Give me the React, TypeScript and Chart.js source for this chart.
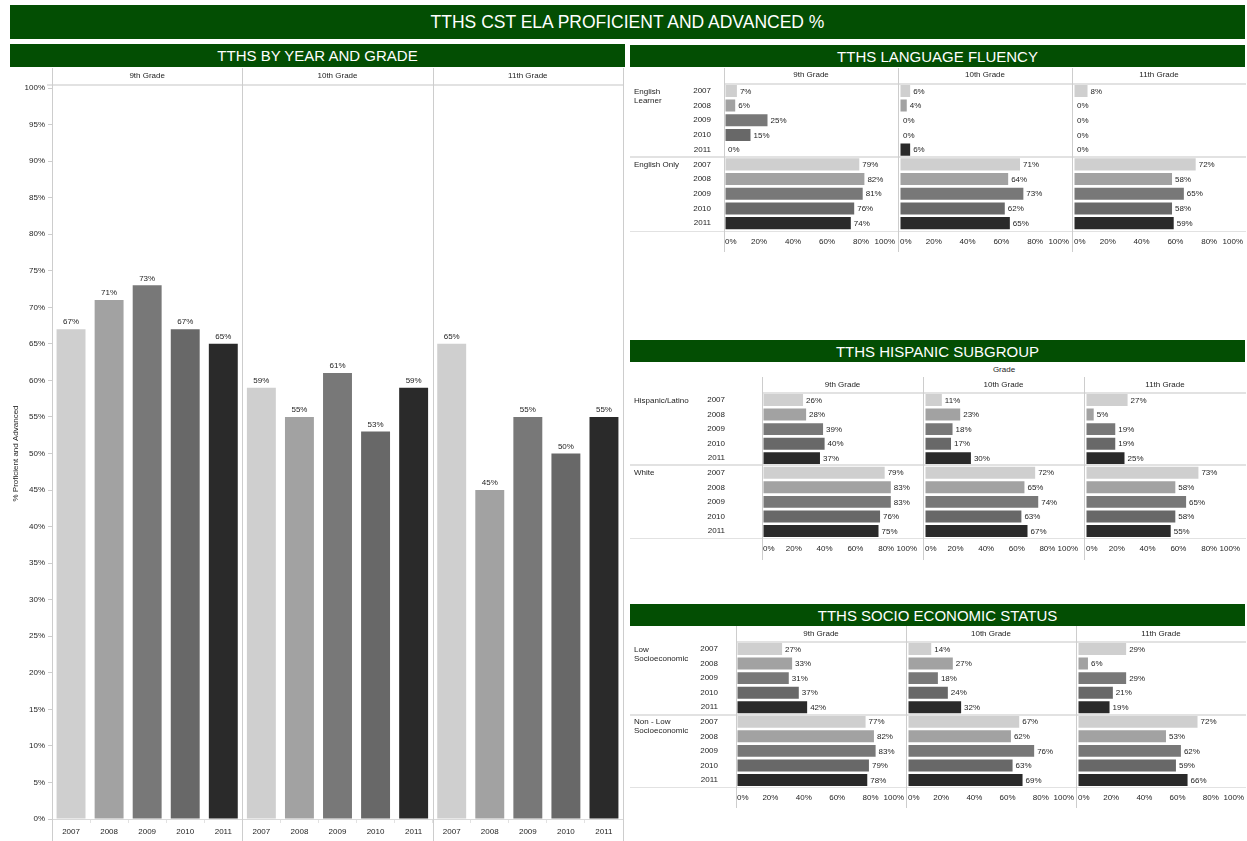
import React, { useEffect, useRef } from "react";
import { Chart, registerables } from "chart.js";
Chart.register(...registerables);

// ---------- data ----------
const YEARS = ["2007", "2008", "2009", "2010", "2011"];
const GRADES = ["9th Grade", "10th Grade", "11th Grade"];
const YEAR_COLORS = ["#cfcfcf", "#a2a2a2", "#787878", "#686868", "#2a2a2a"];
const Y_TICK_STEP = 5;
const X_TICK_STEP = 20;

// TTHS by year and grade
const yearGrade9 = [67, 71, 73, 67, 65];
const yearGrade10 = [59, 55, 61, 53, 59];
const yearGrade11 = [65, 45, 55, 50, 55];

// Language fluency
const FLUENCY_GROUPS = ["English Learner", "English Only"];
const englishLearner9 = [7, 6, 25, 15, 0];
const englishLearner10 = [6, 4, 0, 0, 6];
const englishLearner11 = [8, 0, 0, 0, 0];
const englishOnly9 = [79, 82, 81, 76, 74];
const englishOnly10 = [71, 64, 73, 62, 65];
const englishOnly11 = [72, 58, 65, 58, 59];

// Hispanic subgroup
const HISPANIC_GROUPS = ["Hispanic/Latino", "White"];
const hispanic9 = [26, 28, 39, 40, 37];
const hispanic10 = [11, 23, 18, 17, 30];
const hispanic11 = [27, 5, 19, 19, 25];
const white9 = [79, 83, 83, 76, 75];
const white10 = [72, 65, 74, 63, 67];
const white11 = [73, 58, 65, 58, 55];

// Socio economic status
const SES_GROUPS = ["Low Socioeconomic", "Non - Low Socioeconomic"];
const lowSes9 = [27, 33, 31, 37, 42];
const lowSes10 = [14, 27, 18, 24, 32];
const lowSes11 = [29, 6, 29, 21, 19];
const nonLowSes9 = [77, 82, 83, 79, 78];
const nonLowSes10 = [67, 62, 76, 63, 69];
const nonLowSes11 = [72, 53, 62, 59, 66];

// ---------- styling / layout ----------
const FONT = '"Liberation Sans", Arial, Helvetica, sans-serif';
const FS = 8;
const GREEN = "#034e03";
const TEXT = "#1e1e1e";
const LINE = "#cdcdcd";
const LIGHT = "#e2e2e2";
const PANEL_LEFT = 630;

const LEFT = { top: 67, width: 625, height: 774, axisWidth: 52, padTop: 21, axisHeight: 22, padRight: 2 };

type Panel = {
  title: string;
  titleTop: number;
  titleHeight: number;
  caption?: string;
  captionTop?: number;
  headTop: number;
  rowsTop: number;
  rowsBottom: number;
  bottom: number;
  cols: number[];
  yearGap: number;
  wrap: number;
  rightGap: number;
  groups: string[];
  series: number[][][];
};

const PANELS: Panel[] = [
  {
    title: "TTHS LANGUAGE FLUENCY",
    titleTop: 45,
    titleHeight: 22,
    headTop: 68,
    rowsTop: 83.5,
    rowsBottom: 230.5,
    bottom: 252,
    cols: [724, 898, 1072, 1246],
    yearGap: 14,
    wrap: 50,
    rightGap: 3,
    groups: FLUENCY_GROUPS,
    series: [
      [englishLearner9, englishOnly9],
      [englishLearner10, englishOnly10],
      [englishLearner11, englishOnly11],
    ],
  },
  {
    title: "TTHS HISPANIC SUBGROUP",
    titleTop: 340,
    titleHeight: 22,
    caption: "Grade",
    captionTop: 365,
    headTop: 377,
    rowsTop: 392.7,
    rowsBottom: 538.3,
    bottom: 560,
    cols: [762, 923, 1084, 1246],
    yearGap: 38,
    wrap: 66,
    rightGap: 6,
    groups: HISPANIC_GROUPS,
    series: [
      [hispanic9, white9],
      [hispanic10, white10],
      [hispanic11, white11],
    ],
  },
  {
    title: "TTHS SOCIO ECONOMIC STATUS",
    titleTop: 604,
    titleHeight: 22,
    headTop: 626,
    rowsTop: 641.7,
    rowsBottom: 787.3,
    bottom: 808,
    cols: [736, 906, 1076, 1246],
    yearGap: 19,
    wrap: 58,
    rightGap: 2,
    groups: SES_GROUPS,
    series: [
      [lowSes9, nonLowSes9],
      [lowSes10, nonLowSes10],
      [lowSes11, nonLowSes11],
    ],
  },
];

function wrapText(ctx: CanvasRenderingContext2D, text: string, maxW: number): string[] {
  const words = text.split(" ");
  const lines: string[] = [];
  let cur = "";
  words.forEach((w) => {
    const t = cur ? cur + " " + w : w;
    if (cur && ctx.measureText(t).width > maxW) {
      lines.push(cur);
      cur = w;
    } else cur = t;
  });
  if (cur) lines.push(cur);
  return lines;
}

function makeLeft(canvas: HTMLCanvasElement) {
  const labels = [...YEARS, ...YEARS, ...YEARS];
  const values = [...yearGrade9, ...yearGrade10, ...yearGrade11];
  const colors = labels.map((_, i) => YEAR_COLORS[i % YEARS.length]);
  const decor = {
    id: "leftDecor",
    afterDraw(chart: any) {
      const { ctx, chartArea: a, scales } = chart;
      const x = scales.x;
      const H = chart.height;
      const bounds = [a.left];
      for (let g = 1; g < GRADES.length; g++) {
        bounds.push((x.getPixelForValue(g * 5 - 1) + x.getPixelForValue(g * 5)) / 2);
      }
      bounds.push(a.right);
      ctx.save();
      ctx.fillStyle = LIGHT;
      ctx.fillRect(a.left - 5, Math.round(a.top) - 4, a.right - a.left + 5, 2);
      ctx.fillStyle = LINE;
      bounds.forEach((b) => ctx.fillRect(Math.round(b), 1, 1, H - 1));
      ctx.font = `${FS}px ${FONT}`;
      ctx.fillStyle = TEXT;
      ctx.textAlign = "center";
      ctx.textBaseline = "middle";
      GRADES.forEach((g, i) => ctx.fillText(g, (bounds[i] + bounds[i + 1]) / 2, 9));
      const meta = chart.getDatasetMeta(0);
      ctx.textBaseline = "bottom";
      meta.data.forEach((el: any, i: number) => {
        ctx.fillText(values[i] + "%", el.x, el.y - 3);
      });
      ctx.restore();
    },
  };
  return new Chart(canvas, {
    type: "bar",
    data: {
      labels,
      datasets: [
        {
          data: values,
          backgroundColor: colors,
          borderWidth: 0,
          barPercentage: 0.76,
          categoryPercentage: 1,
        },
      ],
    },
    options: {
      responsive: false,
      animation: false,
      layout: { padding: { top: LEFT.padTop, right: LEFT.padRight, left: 0, bottom: 0 } },
      plugins: { legend: { display: false }, tooltip: { enabled: false } },
      scales: {
        x: {
          ticks: { font: { size: FS, family: FONT }, color: TEXT, maxRotation: 0, autoSkip: false, padding: 4 },
          grid: { drawOnChartArea: false, offset: true, tickLength: 4, color: LIGHT },
          border: { display: true, color: "#d9d9d9" },
          afterFit: (s: any) => {
            s.height = LEFT.axisHeight;
          },
        },
        y: {
          min: 0,
          max: 100,
          ticks: {
            stepSize: Y_TICK_STEP,
            callback: (v: any) => v + "%",
            font: { size: FS, family: FONT },
            color: TEXT,
            padding: 3,
          },
          grid: { drawOnChartArea: false, tickLength: 4, color: LINE },
          border: { display: false },
          title: {
            display: true,
            text: "% Proficient and Advanced",
            font: { size: FS, family: FONT },
            color: TEXT,
            padding: { top: 11, bottom: 0 },
          },
          afterFit: (s: any) => {
            s.width = LEFT.axisWidth;
          },
        },
      },
    },
    plugins: [decor],
  } as any);
}

function makeHBar(canvas: HTMLCanvasElement, p: Panel, gi: number) {
  const first = gi === 0;
  const values = [...p.series[gi][0], ...p.series[gi][1]];
  const labels = [...YEARS, ...YEARS];
  const colors = labels.map((_, i) => YEAR_COLORS[i % YEARS.length]);
  const colLeft = p.cols[gi];
  const canvasLeft = first ? PANEL_LEFT : colLeft;
  const areaLeft = colLeft + 1 - canvasLeft;
  const decor = {
    id: "hbarDecor",
    afterDraw(chart: any) {
      const { ctx, chartArea: a, scales } = chart;
      const y = scales.y;
      const W = chart.width;
      const H = chart.height;
      const lineX = areaLeft - 1;
      ctx.save();
      // header underline
      ctx.fillStyle = LIGHT;
      ctx.fillRect(lineX, Math.round(a.top) - 1, W - lineX, 2);
      // group separator
      const sepY = Math.round((y.getPixelForValue(4) + y.getPixelForValue(5)) / 2);
      ctx.fillRect(0, sepY - 1, W, 2);
      // bottom line
      ctx.fillRect(0, Math.round(a.bottom), W, 1);
      // column line
      ctx.fillStyle = LINE;
      ctx.fillRect(lineX, 0, 1, H);
      // grade header
      ctx.font = `${FS}px ${FONT}`;
      ctx.fillStyle = TEXT;
      ctx.textAlign = "center";
      ctx.textBaseline = "middle";
      ctx.fillText(GRADES[gi], (lineX + W) / 2, (a.top - 1) / 2);
      // value labels
      ctx.textAlign = "left";
      const meta = chart.getDatasetMeta(0);
      meta.data.forEach((el: any, i: number) => {
        ctx.fillText(values[i] + "%", el.x + 3, el.y + 0.5);
      });
      // group labels
      if (first) {
        p.groups.forEach((g, k) => {
          const yy = y.getPixelForValue(k * 5);
          const lines = wrapText(ctx, g, p.wrap);
          lines.forEach((ln, j) => ctx.fillText(ln, 4, yy + 0.5 + j * 9));
        });
      }
      ctx.restore();
    },
  };
  return new Chart(canvas, {
    type: "bar",
    data: {
      labels,
      datasets: [
        {
          data: values,
          backgroundColor: colors,
          borderWidth: 0,
          barPercentage: 0.82,
          categoryPercentage: 1,
        },
      ],
    },
    options: {
      indexAxis: "y",
      responsive: false,
      animation: false,
      layout: {
        padding: { top: p.rowsTop - p.headTop, right: p.rightGap, left: first ? 0 : 1, bottom: 0 },
      },
      plugins: { legend: { display: false }, tooltip: { enabled: false } },
      scales: {
        x: {
          min: 0,
          max: 100,
          ticks: {
            stepSize: X_TICK_STEP,
            align: "inner",
            padding: 0,
            callback: (v: any) => v + "%",
            font: { size: FS, family: FONT },
            color: TEXT,
            maxRotation: 0,
            autoSkip: false,
          },
          grid: { display: true, drawOnChartArea: false, color: "rgba(0,0,0,0)", tickLength: 6 },
          border: { display: false },
          afterFit: (s: any) => {
            s.height = p.bottom - p.rowsBottom;
          },
        },
        y: {
          display: first,
          ticks: { padding: 0, font: { size: FS, family: FONT }, color: TEXT, autoSkip: false },
          grid: {
            display: true,
            drawOnChartArea: false,
            drawTicks: true,
            tickLength: p.yearGap,
            color: "rgba(0,0,0,0)",
          },
          border: { display: false },
          afterFit: (s: any) => {
            s.width = areaLeft;
          },
        },
      },
    },
    plugins: [decor],
  } as any);
}

const header = (left: number, top: number, width: number, height: number, size: number): React.CSSProperties => ({
  position: "absolute",
  left,
  top,
  width,
  height,
  background: GREEN,
  color: "#ffffff",
  fontFamily: FONT,
  fontSize: size,
  display: "flex",
  alignItems: "center",
  justifyContent: "center",
  whiteSpace: "nowrap",
});

export default function App() {
  const leftRef = useRef<HTMLCanvasElement | null>(null);
  const panelRefs = useRef<(HTMLCanvasElement | null)[]>([]);

  useEffect(() => {
    Chart.defaults.font.family = FONT;
    const charts: Chart[] = [];
    if (leftRef.current) charts.push(makeLeft(leftRef.current));
    PANELS.forEach((p, pi) =>
      GRADES.forEach((_, gi) => {
        const c = panelRefs.current[pi * 3 + gi];
        if (c) charts.push(makeHBar(c, p, gi));
      })
    );
    return () => charts.forEach((c) => c.destroy());
  }, []);

  return (
    <div
      style={{
        position: "absolute",
        left: 0,
        top: 0,
        width: 1247,
        height: 841,
        background: "#ffffff",
        overflow: "hidden",
      }}
    >
      <div style={header(10, 5, 1235, 34, 17.5)}>TTHS CST ELA PROFICIENT AND ADVANCED %</div>
      <div style={header(10, 44, 615, 23, 15)}>TTHS BY YEAR AND GRADE</div>
      <canvas
        ref={leftRef}
        width={LEFT.width}
        height={LEFT.height}
        style={{ position: "absolute", left: 0, top: LEFT.top, width: LEFT.width, height: LEFT.height }}
      />
      {PANELS.map((p, pi) => (
        <React.Fragment key={p.title}>
          <div style={header(PANEL_LEFT, p.titleTop, 615, p.titleHeight, 15)}>{p.title}</div>
          {p.caption ? (
            <div
              style={{
                position: "absolute",
                left: p.cols[0],
                top: p.captionTop,
                width: p.cols[3] - p.cols[0],
                textAlign: "center",
                fontFamily: FONT,
                fontSize: FS,
                color: TEXT,
              }}
            >
              {p.caption}
            </div>
          ) : null}
          {GRADES.map((g, gi) => {
            const left = gi === 0 ? PANEL_LEFT : p.cols[gi];
            const w = p.cols[gi + 1] - left;
            const h = p.bottom - p.headTop;
            return (
              <canvas
                key={g}
                ref={(el) => {
                  panelRefs.current[pi * 3 + gi] = el;
                }}
                width={w}
                height={h}
                style={{ position: "absolute", left, top: p.headTop, width: w, height: h }}
              />
            );
          })}
        </React.Fragment>
      ))}
    </div>
  );
}
